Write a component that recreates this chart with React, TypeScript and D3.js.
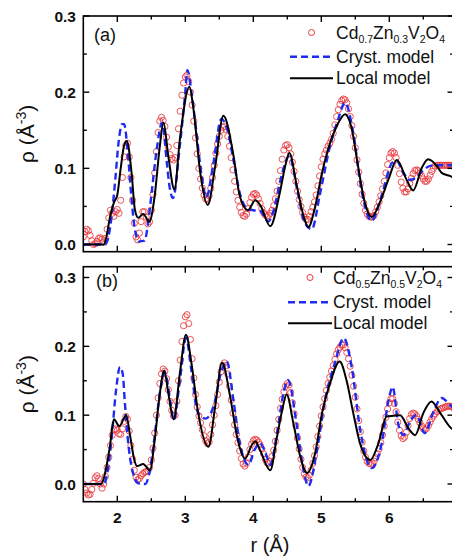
import React from 'react';
import * as d3 from 'd3';

// Measured data are sampled on an even r grid: r = R_START + i * R_STEP
const R_START = 1.5;
const R_STEP = 0.025;

// ---------- Panel (a): Cd0.7Zn0.3V2O4 ----------
const vDataA = [
  0.010,0.017,0.020,0.018,0.012,0.005,0.000,0.001,0.004,0.008,0.009,0.007,0.003,0.008,0.020,0.035,0.045,0.041,0.037,0.043,
  0.046,0.041,0.058,0.088,0.115,0.130,0.133,0.115,0.088,0.058,0.028,0.010,0.006,0.015,0.030,0.043,0.043,0.036,0.027,0.030,
  0.045,0.066,0.094,0.122,0.147,0.162,0.167,0.163,0.155,0.141,0.128,0.118,0.113,0.111,0.114,0.130,0.152,0.175,0.196,0.212,
  0.220,0.222,0.214,0.200,0.183,0.162,0.140,0.119,0.100,0.086,0.074,0.065,0.060,0.059,0.064,0.074,0.088,0.104,0.120,0.132,
  0.142,0.150,0.154,0.155,0.151,0.142,0.129,0.114,0.098,0.083,0.069,0.058,0.049,0.042,0.038,0.037,0.040,0.047,0.055,0.062,
  0.066,0.067,0.065,0.060,0.054,0.047,0.042,0.039,0.037,0.038,0.041,0.045,0.051,0.060,0.070,0.083,0.097,0.112,0.124,0.130,
  0.131,0.127,0.119,0.108,0.096,0.083,0.070,0.059,0.050,0.042,0.036,0.033,0.033,0.037,0.043,0.049,0.056,0.065,0.077,0.090,
  0.102,0.112,0.119,0.124,0.129,0.133,0.138,0.146,0.157,0.168,0.177,0.184,0.189,0.191,0.190,0.186,0.178,0.168,0.156,0.142,
  0.127,0.111,0.095,0.080,0.066,0.054,0.045,0.040,0.037,0.036,0.036,0.038,0.043,0.049,0.056,0.064,0.073,0.083,0.094,0.105,
  0.114,0.120,0.122,0.120,0.114,0.104,0.093,0.082,0.074,0.069,0.069,0.073,0.080,0.087,0.093,0.097,0.098,0.097,0.094,0.090,
  0.086,0.083,0.083,0.086,0.091,0.096,0.100,0.103,0.104,0.104,0.104,0.104,0.104,0.104,0.104,0.104,0.104,0.103,0.103,
];

const rCrystA = [1.5,1.82,1.87,1.92,1.97,2.02,2.07,2.10,2.15,2.20,2.25,2.32,2.40,2.46,2.51,2.58,2.66,2.73,2.77,2.82,2.92,3.00,3.03,3.09,3.17,3.24,3.31,3.41,3.53,3.62,3.71,3.80,3.90,4.00,4.10,4.22,4.30,4.40,4.53,4.65,4.75,4.86,4.98,5.13,5.25,5.35,5.47,5.59,5.74,5.89,6.04,6.11,6.20,6.30,6.40,6.50,6.65,6.89,7.0];
const vCrystA = [0,0,0.010,0.040,0.085,0.135,0.158,0.158,0.125,0.070,0.025,0.004,0.005,0.033,0.072,0.125,0.160,0.106,0.075,0.061,0.130,0.200,0.229,0.200,0.142,0.090,0.062,0.105,0.165,0.150,0.110,0.068,0.048,0.045,0.044,0.030,0.045,0.085,0.116,0.070,0.030,0.020,0.066,0.130,0.165,0.186,0.146,0.072,0.031,0.065,0.107,0.110,0.095,0.085,0.088,0.098,0.104,0.104,0.103];

const rLocalA = [1.5,1.8,1.84,1.89,1.95,2.0,2.05,2.10,2.14,2.21,2.26,2.31,2.38,2.47,2.55,2.62,2.68,2.75,2.84,2.92,3.06,3.12,3.22,3.33,3.44,3.56,3.71,3.80,3.92,4.03,4.10,4.25,4.39,4.47,4.53,4.64,4.74,4.81,4.91,5.01,5.10,5.23,5.35,5.45,5.54,5.64,5.74,5.86,5.99,6.11,6.26,6.35,6.48,6.57,6.70,6.77,6.89,7.0];
const vLocalA = [0,0,0.010,0.035,0.055,0.065,0.100,0.130,0.136,0.094,0.045,0.035,0.040,0.030,0.064,0.125,0.160,0.116,0.072,0.138,0.207,0.178,0.094,0.052,0.103,0.169,0.116,0.064,0.045,0.058,0.052,0.024,0.068,0.103,0.120,0.077,0.037,0.023,0.050,0.094,0.125,0.156,0.171,0.151,0.103,0.055,0.036,0.055,0.086,0.111,0.084,0.071,0.101,0.112,0.103,0.094,0.090,0.085];

// ---------- Panel (b): Cd0.5Zn0.5V2O4 ----------
const vDataB = [
  0.000,-0.008,-0.013,-0.016,-0.015,-0.008,0.001,0.009,0.012,0.008,0.000,-0.006,0.000,0.011,0.024,0.039,0.056,0.071,0.079,0.080,
  0.078,0.073,0.072,0.080,0.091,0.098,0.094,0.077,0.056,0.036,0.020,0.010,0.006,0.008,0.012,0.015,0.017,0.018,0.019,0.024,
  0.035,0.052,0.074,0.100,0.125,0.146,0.160,0.167,0.164,0.153,0.137,0.120,0.107,0.099,0.100,0.120,0.150,0.180,0.207,0.230,
  0.243,0.246,0.233,0.210,0.182,0.154,0.130,0.112,0.099,0.089,0.079,0.070,0.063,0.059,0.061,0.072,0.086,0.100,0.114,0.130,
  0.148,0.163,0.172,0.176,0.172,0.160,0.142,0.122,0.103,0.086,0.072,0.060,0.048,0.037,0.029,0.026,0.030,0.039,0.050,0.058,
  0.063,0.065,0.064,0.061,0.057,0.051,0.044,0.036,0.031,0.030,0.033,0.040,0.049,0.062,0.078,0.094,0.110,0.123,0.134,0.142,
  0.146,0.144,0.133,0.118,0.102,0.085,0.067,0.051,0.036,0.024,0.015,0.010,0.009,0.013,0.020,0.030,0.041,0.054,0.069,0.084,
  0.099,0.112,0.124,0.136,0.146,0.155,0.164,0.172,0.181,0.189,0.195,0.199,0.202,0.202,0.198,0.191,0.182,0.171,0.158,0.142,
  0.126,0.109,0.092,0.076,0.061,0.048,0.039,0.033,0.030,0.029,0.030,0.033,0.038,0.044,0.051,0.060,0.071,0.084,0.097,0.109,
  0.118,0.124,0.124,0.117,0.105,0.090,0.078,0.070,0.066,0.068,0.075,0.085,0.095,0.101,0.103,0.102,0.099,0.094,0.089,0.084,
  0.080,0.079,0.081,0.085,0.090,0.095,0.099,0.102,0.105,0.107,0.109,0.110,0.111,0.112,0.113,0.113,0.113,0.112,0.110,
];

const rCrystB = [1.5,1.80,1.86,1.92,1.98,2.04,2.08,2.11,2.15,2.21,2.31,2.41,2.48,2.55,2.63,2.70,2.78,2.83,2.92,3.01,3.09,3.17,3.24,3.30,3.36,3.43,3.52,3.61,3.71,3.80,3.93,4.02,4.10,4.18,4.25,4.35,4.44,4.51,4.64,4.73,4.81,4.93,5.05,5.20,5.33,5.45,5.57,5.74,5.89,5.99,6.05,6.13,6.21,6.30,6.40,6.52,6.65,6.77,6.89,7.0];
const vCrystB = [0,0,0.020,0.070,0.135,0.170,0.160,0.120,0.070,0.025,0.001,0.000,0.020,0.070,0.135,0.162,0.120,0.093,0.150,0.212,0.165,0.108,0.097,0.095,0.100,0.118,0.160,0.178,0.120,0.060,0.028,0.050,0.059,0.045,0.028,0.075,0.130,0.151,0.085,0.025,-0.003,0.045,0.120,0.176,0.212,0.168,0.080,0.023,0.060,0.122,0.141,0.088,0.071,0.090,0.100,0.074,0.105,0.125,0.115,0.105];

const rLocalB = [1.5,1.76,1.80,1.84,1.89,1.95,2.03,2.13,2.19,2.25,2.29,2.38,2.48,2.55,2.62,2.69,2.75,2.83,2.92,3.01,3.09,3.19,3.34,3.44,3.54,3.66,3.76,3.88,3.98,4.03,4.10,4.25,4.34,4.42,4.49,4.59,4.69,4.79,4.91,5.01,5.13,5.27,5.37,5.47,5.57,5.72,5.84,5.96,6.06,6.16,6.28,6.38,6.50,6.62,6.75,6.89,7.0];
const vLocalB = [0,0,0.008,0.025,0.054,0.094,0.084,0.100,0.069,0.035,0.026,0.029,0.020,0.064,0.127,0.165,0.132,0.094,0.161,0.217,0.176,0.103,0.054,0.113,0.176,0.127,0.069,0.037,0.057,0.062,0.049,0.020,0.064,0.105,0.130,0.088,0.040,0.016,0.045,0.103,0.147,0.178,0.151,0.103,0.059,0.035,0.059,0.098,0.099,0.100,0.081,0.071,0.103,0.120,0.103,0.083,0.075];

// ---------- Axes ----------
const X_TICKS = [2, 3, 4, 5, 6];
const X_TICK_LABELS = ['2', '3', '4', '5', '6'];
const X_MINOR = [2.5, 3.5, 4.5, 5.5, 6.5];
const Y_TICKS = [0, 0.1, 0.2, 0.3];
const Y_TICK_LABELS = ['0.0', '0.1', '0.2', '0.3'];
const Y_MINOR = [0.05, 0.15, 0.25];

const FONT = '"Liberation Sans", Arial, Helvetica, sans-serif';
const RED = '#e8353a';
const BLUE = '#1f2bf0';

const LEFT = 83.3;
const RIGHT = 453.5;

const x = d3.scaleLinear().domain([1.5, 7]).range([LEFT, 457.3]);

type PanelProps = {
  id: string;
  y0: number;
  y3: number;
  top: number;
  bottom: number;
  vData: number[];
  rCryst: number[]; vCryst: number[];
  rLocal: number[]; vLocal: number[];
  label: string;
  labelX: number; labelY: number;
  sub1: string; sub2: string;
  legY: [number, number, number];
  legX0: number; legX1: number; legText: number;
  showXLabels: boolean;
};

function Panel(p: PanelProps) {
  const y = d3.scaleLinear().domain([0, 0.3]).range([p.y0, p.y3]);
  const line = d3.line<[number, number]>()
    .x((d) => x(d[0]))
    .y((d) => y(d[1]))
    .curve(d3.curveMonotoneX);
  const cryst = p.rCryst.map((r, i) => [r, p.vCryst[i]] as [number, number]);
  const local = p.rLocal.map((r, i) => [r, p.vLocal[i]] as [number, number]);
  const clipId = 'clip-' + p.id;
  const maj = 6, mnr = 3.5;
  const midY = (p.top + p.bottom) / 2;
  const legMid = (p.legX0 + p.legX1) / 2;
  return (
    <g>
      <defs>
        <clipPath id={clipId}>
          <rect x={LEFT} y={p.top} width={RIGHT - LEFT} height={p.bottom - p.top} />
        </clipPath>
      </defs>
      <g clipPath={`url(#${clipId})`}>
        {p.vData.map((v, i) => (
          <circle key={i} cx={x(R_START + i * R_STEP)} cy={y(v)} r={3.1} fill="none" stroke={RED} strokeWidth={0.85} />
        ))}
        <path d={line(cryst) || ''} fill="none" stroke={BLUE} strokeWidth={2.4} strokeDasharray="7 4" />
        <path d={line(local) || ''} fill="none" stroke="#000" strokeWidth={2} />
      </g>
      <rect x={LEFT} y={p.top} width={RIGHT - LEFT} height={p.bottom - p.top} fill="none" stroke="#000" strokeWidth={1.6} />
      {X_TICKS.map((t) => (
        <g key={'xt' + t}>
          <line x1={x(t)} x2={x(t)} y1={p.bottom} y2={p.bottom - maj} stroke="#000" strokeWidth={1.4} />
          <line x1={x(t)} x2={x(t)} y1={p.top} y2={p.top + maj} stroke="#000" strokeWidth={1.4} />
        </g>
      ))}
      {X_MINOR.map((t) => (
        <g key={'xm' + t}>
          <line x1={x(t)} x2={x(t)} y1={p.bottom} y2={p.bottom - mnr} stroke="#000" strokeWidth={1.4} />
          <line x1={x(t)} x2={x(t)} y1={p.top} y2={p.top + mnr} stroke="#000" strokeWidth={1.4} />
        </g>
      ))}
      {Y_TICKS.map((t, i) => (
        <g key={'yt' + t}>
          <line x1={LEFT} x2={LEFT + maj} y1={y(t)} y2={y(t)} stroke="#000" strokeWidth={1.4} />
          <line x1={RIGHT} x2={RIGHT - maj} y1={y(t)} y2={y(t)} stroke="#000" strokeWidth={1.4} />
          <text x={76} y={y(t) + 5.5} textAnchor="end" fontFamily={FONT} fontSize={15.5} fontWeight="bold" fill="#111">
            {Y_TICK_LABELS[i]}
          </text>
        </g>
      ))}
      {Y_MINOR.map((t) => (
        <g key={'ym' + t}>
          <line x1={LEFT} x2={LEFT + mnr} y1={y(t)} y2={y(t)} stroke="#000" strokeWidth={1.4} />
          <line x1={RIGHT} x2={RIGHT - mnr} y1={y(t)} y2={y(t)} stroke="#000" strokeWidth={1.4} />
        </g>
      ))}
      {p.showXLabels && X_TICKS.map((t, i) => (
        <text key={'xl' + t} x={x(t)} y={p.bottom + 21.5} textAnchor="middle" fontFamily={FONT} fontSize={15.5} fontWeight="bold" fill="#111">
          {X_TICK_LABELS[i]}
        </text>
      ))}
      <text transform={`translate(34,${midY}) rotate(-90)`} textAnchor="middle" fontFamily={FONT} fontSize={21} fill="#111">
        ρ (Å<tspan fontSize={14} dy={-8}>-3</tspan><tspan dy={8}>)</tspan>
      </text>
      <text x={p.labelX} y={p.labelY} fontFamily={FONT} fontSize={18} fill="#111">{p.label}</text>
      <circle cx={legMid} cy={p.legY[0]} r={3} fill="none" stroke={RED} strokeWidth={1} />
      <text x={p.legText} y={p.legY[0] + 6} fontFamily={FONT} fontSize={17.5} fill="#111">
        Cd<tspan fontSize={10.5} dy={4}>{p.sub1}</tspan>
        <tspan dy={-4}>Zn</tspan><tspan fontSize={10.5} dy={4}>{p.sub2}</tspan>
        <tspan dy={-4}>V</tspan><tspan fontSize={10.5} dy={4}>2</tspan>
        <tspan dy={-4}>O</tspan><tspan fontSize={10.5} dy={4}>4</tspan>
      </text>
      <line x1={p.legX0} x2={p.legX1} y1={p.legY[1]} y2={p.legY[1]} stroke={BLUE} strokeWidth={2.4} strokeDasharray="7 4" />
      <text x={p.legText} y={p.legY[1] + 6} fontFamily={FONT} fontSize={17.5} fill="#111">Cryst. model</text>
      <line x1={p.legX0} x2={p.legX1} y1={p.legY[2]} y2={p.legY[2]} stroke="#000" strokeWidth={2} />
      <text x={p.legText} y={p.legY[2] + 6} fontFamily={FONT} fontSize={17.5} fill="#111">Local model</text>
    </g>
  );
}

export default function App() {
  return (
    <svg width={452} height={558} style={{ position: 'absolute', left: 0, top: 0, background: '#fff' }}>
      <rect x={0} y={0} width={452} height={558} fill="#fff" />
      <Panel
        id="a" y0={244.5} y3={16} top={16} bottom={251.7}
        vData={vDataA} rCryst={rCrystA} vCryst={vCrystA} rLocal={rLocalA} vLocal={vLocalA}
        label="(a)" labelX={94} labelY={41}
        sub1="0.7" sub2="0.3"
        legY={[32.5, 56.7, 78.3]} legX0={290} legX1={333} legText={336}
        showXLabels={false}
      />
      <Panel
        id="b" y0={484} y3={277.5} top={266.7} bottom={501.7}
        vData={vDataB} rCryst={rCrystB} vCryst={vCrystB} rLocal={rLocalB} vLocal={vLocalB}
        label="(b)" labelX={96} labelY={287}
        sub1="0.5" sub2="0.5"
        legY={[277.5, 302.3, 323.3]} legX0={288} legX1={332} legText={333}
        showXLabels={true}
      />
      <text x={270} y={552} textAnchor="middle" fontFamily={FONT} fontSize={20} fill="#111">r (Å)</text>
    </svg>
  );
}
